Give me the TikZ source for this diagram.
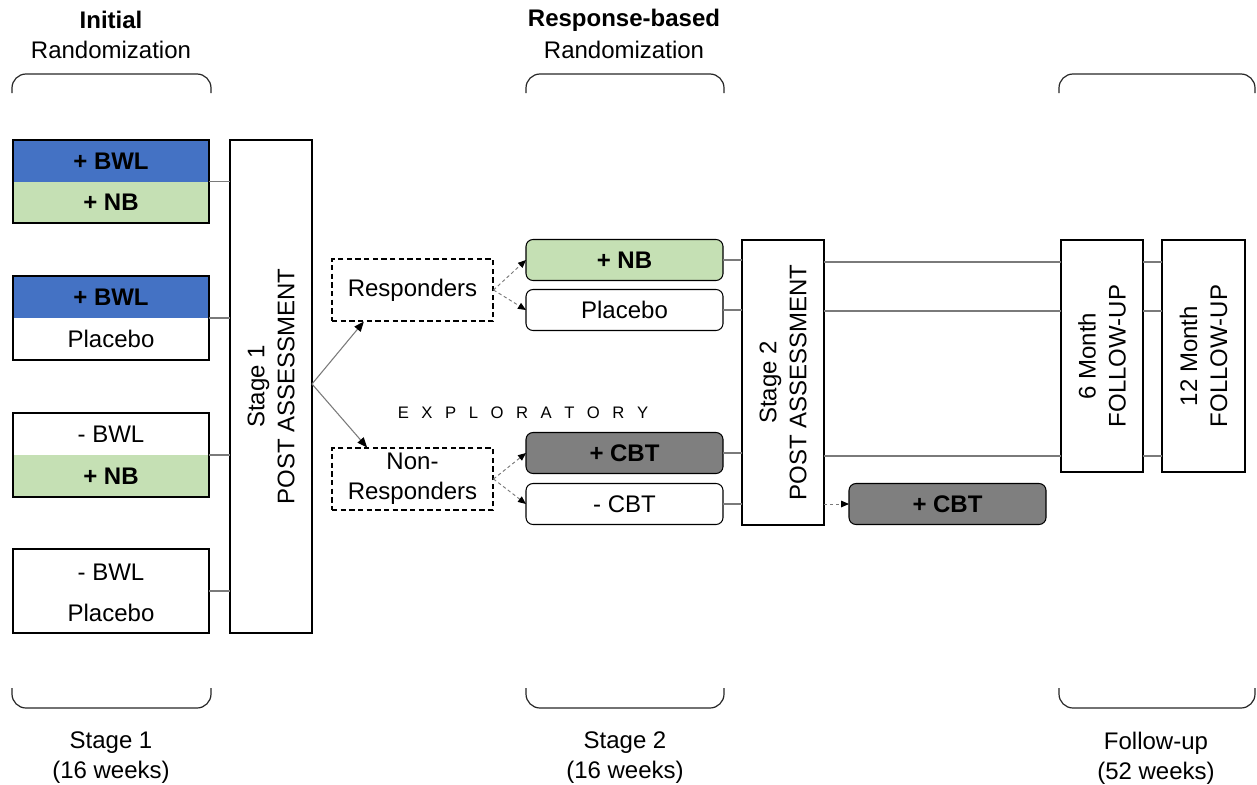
\documentclass[tikz,border=0pt]{standalone}
\usepackage{fontspec}
\setmainfont{Liberation Sans}
\usetikzlibrary{arrows.meta,calc}
\definecolor{bwlblue}{HTML}{4472C4}
\definecolor{nbgreen}{HTML}{C5E0B4}
\definecolor{cbtgray}{HTML}{7F7F7F}
\definecolor{linkgray}{HTML}{7A7A7A}
\newdimen\pxu \pxu=0.75pt
\newcommand\trackgap{\kern9.4pt}

\tikzset{
  box/.style={draw=black, line width=0.8pt, inner sep=0pt, outer sep=0pt},
  half/.style={inner sep=0pt, outer sep=0pt, minimum width=196\pxu, minimum height=42\pxu},
  rbox/.style={box, rounded corners=7\pxu, minimum width=197\pxu, minimum height=41\pxu},
  dbox/.style={draw=black, dash pattern=on 4pt off 2.5pt, line width=0.8pt, inner sep=0pt,
               minimum width=161\pxu, minimum height=62\pxu, align=center},
  link/.style={draw=linkgray, line width=0.8pt},
  split/.style={link, -{Triangle[length=7.5pt,width=6pt,color=black]}},
  dsplit/.style={draw=linkgray, line width=0.7pt, dash pattern=on 2.5pt off 2pt,
                 -{Triangle[length=6pt,width=5pt,color=black]}},
  brace/.style={draw=black!85, line width=0.9pt, rounded corners=14\pxu},
  lab/.style={inner sep=0pt, align=center},
  vtext/.style={rotate=90, inner sep=0pt, align=center}
}

\begin{document}
\begin{tikzpicture}[x=0.75pt, y=-0.75pt, font=\fontsize{18}{22.5}\selectfont]
\useasboundingbox (0,0) rectangle (1257,785);

% ---- headers ----
\node[lab] (h1a) at (111,20) {\textbf{Initial}};
\node[lab] (h1b) at (111,50) {Randomization};
\node[lab] (h2a) at (624,20) {\textbf{Response-based}};
\node[lab] (h2b) at (624,50) {Randomization};

% ---- braces ----
\draw[brace] (12,93) -- (12,74) -- (211,74) -- (211,93);
\draw[brace] (526,93) -- (526,74) -- (724,74) -- (724,93);
\draw[brace] (1059,93) -- (1059,74) -- (1255,74) -- (1255,93);
\draw[brace] (12,688) -- (12,708) -- (211,708) -- (211,688);
\draw[brace] (526,688) -- (526,708) -- (724,708) -- (724,688);
\draw[brace] (1059,688) -- (1059,708) -- (1255,708) -- (1255,688);

% ---- footers ----
\node[lab] (f1) at (111,758) {Stage 1\\(16 weeks)};
\node[lab] (f2) at (625,758) {Stage 2\\(16 weeks)};
\node[lab] (f3) at (1156,758) {Follow-up\\(52 weeks)};

% ---- stage 1 arms ----
\node[half, fill=bwlblue] (b1t) at (111,161) {\textbf{+ BWL}};
\node[half, fill=nbgreen, minimum height=41\pxu] (b1b) at (111,202.5) {\textbf{+ NB}};
\node[box, minimum width=196\pxu, minimum height=83\pxu] (b1) at (111,181.5) {};

\node[half, fill=bwlblue] (b2t) at (111,297) {\textbf{+ BWL}};
\node[half] (b2b) at (111,339) {Placebo};
\node[box, minimum width=196\pxu, minimum height=84\pxu] (b2) at (111,318) {};

\node[half] (b3t) at (111,434) {- BWL};
\node[half, fill=nbgreen] (b3b) at (111,476) {\textbf{+ NB}};
\node[box, minimum width=196\pxu, minimum height=84\pxu] (b3) at (111,455) {};

\node[half] (b4t) at (111,572) {- BWL};
\node[half] (b4b) at (111,613) {Placebo};
\node[box, minimum width=196\pxu, minimum height=84\pxu] (b4) at (111,591) {};

% ---- stage 1 assessment ----
\node[box, minimum width=82\pxu, minimum height=493\pxu] (s1) at (271,386.5) {};
\node[vtext] (s1t) at (s1) {Stage 1\\POST ASSESSMENT};

\foreach \b in {b1,b2,b3,b4}
  \draw[link] (\b.east) -- (\b.east -| s1.west);

% ---- response groups ----
\node[dbox] (r) at (412.5,290) {Responders};
\node[dbox] (n) at (412.5,479) {Non-\\Responders};
\coordinate (sp) at ($(s1.east)+(0,-2.5)$);
\draw[split] (sp) -- ($(r.south west)!0.2!(r.south east)$);
\draw[split] (sp) -- ($(n.north west)!0.22!(n.north east)$);

\node[lab, font=\fontsize{12.5}{14}\selectfont] (expl) at (523,413)
  {E\trackgap X\trackgap P\trackgap L\trackgap O\trackgap R\trackgap A\trackgap T\trackgap O\trackgap R\trackgap Y};

% ---- stage 2 arms ----
\node[rbox, fill=nbgreen] (nb2) at (624.5,260) {\textbf{+ NB}};
\node[rbox] (pl2) at (624.5,310) {Placebo};
\node[rbox, fill=cbtgray] (cbt2) at (624.5,453) {\textbf{+ CBT}};
\node[rbox] (ncbt2) at (624.5,504) {- CBT};

\draw[dsplit] (r.east) -- (nb2.west);
\draw[dsplit] (r.east) -- (pl2.west);
\draw[dsplit] (n.east) -- (cbt2.west);
\draw[dsplit] (n.east) -- (ncbt2.west);

% ---- stage 2 assessment ----
\node[box, minimum width=82\pxu, minimum height=285\pxu] (s2) at (783,382.5) {};
\node[vtext] (s2t) at (s2) {Stage 2\\POST ASSESSMENT};

\foreach \b in {nb2,pl2,cbt2,ncbt2}
  \draw[link] (\b.east) -- (\b.east -| s2.west);

\node[rbox, fill=cbtgray] (cbt3) at (947.5,504) {\textbf{+ CBT}};
\draw[dsplit] (s2.east |- ncbt2) -- (cbt3.west);

% ---- follow-up ----
\node[box, minimum width=82\pxu, minimum height=232\pxu] (f6) at (1102,356) {};
\node[vtext] (f6t) at (f6) {6 Month\\FOLLOW-UP};
\node[box, minimum width=83\pxu, minimum height=232\pxu] (f12) at (1203.5,356) {};
\node[vtext] (f12t) at (f12) {12 Month\\FOLLOW-UP};

\foreach \b/\dy in {nb2/2,pl2/1,cbt2/3} {
  \draw[link] ($(s2.east |- \b)+(0,\dy)$) -- ($(f6.west |- \b)+(0,\dy)$);
  \draw[link] ($(f6.east |- \b)+(0,\dy)$) -- ($(f12.west |- \b)+(0,\dy)$);
}
\end{tikzpicture}
\end{document}
